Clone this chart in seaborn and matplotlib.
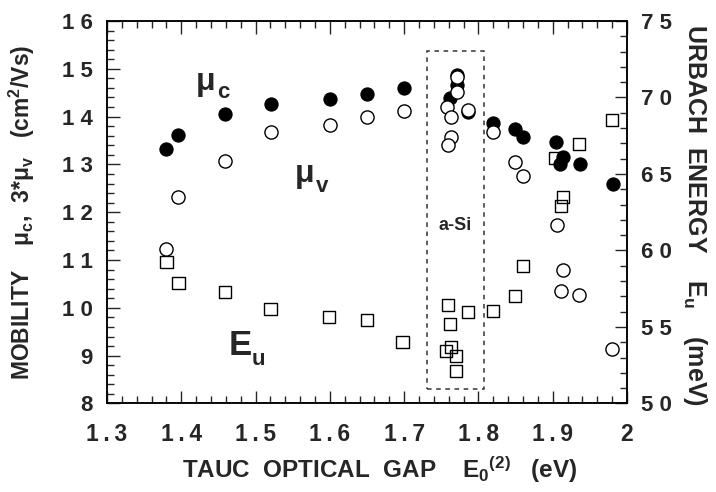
import matplotlib
matplotlib.use("Agg")
import matplotlib.pyplot as plt
import seaborn as sns
import pandas as pd
from matplotlib.ticker import MultipleLocator, FixedLocator
from matplotlib.patches import Rectangle

# ---------------- data ----------------
gap_c = [1.380, 1.396, 1.459, 1.521, 1.600, 1.650, 1.700, 1.771, 1.771, 1.762,
         1.786, 1.820, 1.849, 1.860, 1.904, 1.914, 1.910, 1.937, 1.981]
mu_c = [13.32, 13.62, 14.05, 14.26, 14.37, 14.47, 14.60, 14.87, 14.66, 14.39,
        14.10, 13.87, 13.74, 13.57, 13.47, 13.15, 13.01, 13.01, 12.59]

gap_v = [1.396, 1.380, 1.459, 1.521, 1.600, 1.650, 1.700, 1.771, 1.771, 1.758,
         1.786, 1.763, 1.763, 1.759, 1.820, 1.849, 1.860, 1.906, 1.914, 1.911,
         1.935, 1.980]
mu_v3 = [12.32, 11.23, 13.07, 13.68, 13.82, 13.99, 14.12, 14.83, 14.51, 14.20,
         14.14, 13.99, 13.57, 13.41, 13.68, 13.05, 12.76, 11.73, 10.79, 10.35,
         10.27, 9.14]

gap_u = [1.380, 1.396, 1.459, 1.520, 1.599, 1.650, 1.698, 1.759, 1.786, 1.762,
         1.763, 1.756, 1.770, 1.770, 1.820, 1.849, 1.860, 1.903, 1.914, 1.911,
         1.935, 1.980]
e_u = [59.25, 57.88, 57.29, 56.18, 55.65, 55.46, 54.02, 56.44, 55.98, 55.20,
       53.69, 53.43, 53.10, 52.12, 56.05, 57.03, 58.99, 66.05, 63.50, 62.91,
       66.96, 68.53]

x_ticks = [1.3, 1.4, 1.5, 1.6, 1.7, 1.8, 1.9, 2.0]
x_tick_labels = ["1\u2009.\u20093", "1\u2009.\u20094", "1\u2009.\u20095",
                 "1\u2009.\u20096", "1\u2009.\u20097", "1\u2009.\u20098",
                 "1\u2009.\u20099", "2"]
y_ticks = [8, 9, 10, 11, 12, 13, 14, 15, 16]
y_tick_labels = ["8", "9", "1 0", "1 1", "1 2", "1 3", "1 4", "1 5", "1 6"]
yr_ticks = [50, 55, 60, 65, 70, 75]
yr_tick_labels = ["5 0", "5 5", "6 0", "6 5", "7 0", "7 5"]

# ---------------- style ----------------
sns.set_style("white")
plt.rcParams["font.family"] = ["Liberation Sans", "DejaVu Sans"]
plt.rcParams["font.weight"] = "bold"
plt.rcParams["mathtext.default"] = "regular"
plt.rcParams["axes.linewidth"] = 1.1

fig = plt.figure(figsize=(7.16, 4.92), dpi=100)
ax = fig.add_axes([0.14944, 0.17988, 0.72626, 0.77744])
ax2 = ax.twinx()

df_c = pd.DataFrame({"gap": gap_c, "mu": mu_c})
df_v = pd.DataFrame({"gap": gap_v, "mu": mu_v3})
df_u = pd.DataFrame({"gap": gap_u, "eu": e_u})

# squares on the right axis (drawn underneath)
sns.scatterplot(data=df_u, x="gap", y="eu", ax=ax2, marker="s", s=80,
                facecolor="none", edgecolor="black", linewidth=1.0, zorder=3)

sns.scatterplot(data=df_c, x="gap", y="mu", ax=ax, marker="o", s=90,
                color="black", edgecolor="black", linewidth=0.8, zorder=3)
sns.scatterplot(data=df_v, x="gap", y="mu", ax=ax, marker="o", s=90,
                facecolor="white", edgecolor="black", linewidth=1.0, zorder=4)

ax.set_zorder(ax2.get_zorder() + 1)
ax.patch.set_visible(False)

# axes limits / ticks
ax.set_xlim(1.3, 2.0)
ax.set_ylim(8, 16)
ax2.set_ylim(50, 75)

ax.xaxis.set_major_locator(FixedLocator(x_ticks))
ax.set_xticklabels(x_tick_labels)
ax.xaxis.set_minor_locator(MultipleLocator(0.02))
ax.yaxis.set_major_locator(FixedLocator(y_ticks))
ax.set_yticklabels(y_tick_labels)
ax.yaxis.set_minor_locator(MultipleLocator(0.2))
ax2.yaxis.set_major_locator(FixedLocator(yr_ticks))
ax2.set_yticklabels(yr_tick_labels)
ax2.yaxis.set_minor_locator(MultipleLocator(1))

ax.tick_params(axis="x", which="both", direction="in", top=True, bottom=True,
               labelsize=16.5, pad=14)
ax.tick_params(axis="y", which="both", direction="in", left=True, right=False,
               labelsize=16, pad=10)
ax.tick_params(which="major", length=9, width=1.0)
ax.tick_params(which="minor", length=5, width=1.0)
ax2.tick_params(axis="y", which="both", direction="in", right=True, left=False,
                labelsize=16, pad=10)
ax2.tick_params(which="major", length=9, width=1.0)
ax2.tick_params(which="minor", length=5, width=1.0)
for a in (ax, ax2):
    for lab in a.get_xticklabels() + a.get_yticklabels():
        lab.set_fontweight("bold")
    for sp in a.spines.values():
        sp.set_color("black")
        sp.set_linewidth(1.1)

ax.set_xlabel("")
ax.set_ylabel("")
ax2.set_ylabel("")

# dashed box around a-Si points
ax.add_patch(Rectangle((1.7307, 8.30), 0.0768, 7.08, fill=False,
                       edgecolor="#333333", linestyle=(0, (3, 3)),
                       linewidth=1.1, zorder=2))
ax.text(1.768, 11.73, "a-Si", ha="center", va="center", fontsize=13,
        fontweight="bold")

# in-plot series labels
ax.text(1.433, 14.72, "μ", ha="center", va="center", fontsize=23, fontweight="bold")
ax.text(1.456, 14.50, "c", ha="center", va="center", fontsize=16, fontweight="bold")
ax.text(1.566, 12.80, "μ", ha="center", va="center", fontsize=23, fontweight="bold")
ax.text(1.590, 12.53, "v", ha="center", va="center", fontsize=16, fontweight="bold")
ax.text(1.479, 9.22, "E", ha="center", va="center", fontsize=25, fontweight="bold")
ax.text(1.504, 8.93, "u", ha="center", va="center", fontsize=16, fontweight="bold")

# axis titles
fig.text(380 / 716, 1 - 470 / 492,
         r"TAUC  OPTICAL  GAP    E$_0$$^{(2)}$   (eV)",
         ha="center", va="center", fontsize=17.5, fontweight="bold")
fig.text(22 / 716, 1 - 212 / 492,
         r"MOBILITY    μ$_c$,  3*μ$_v$   (cm$^2$/Vs)",
         ha="center", va="center", rotation=90, fontsize=16.5, fontweight="bold")
fig.text(695 / 716, 1 - 215 / 492,
         r"URBACH  ENERGY    E$_u$    (meV)",
         ha="center", va="center", rotation=-90, fontsize=18, fontweight="bold")

fig.savefig("out.png", dpi=100)
